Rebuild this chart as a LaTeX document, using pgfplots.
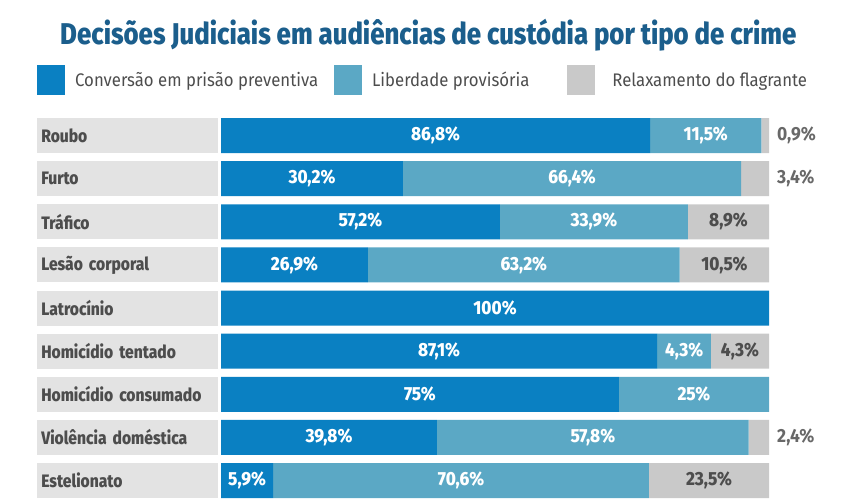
\documentclass[border=0pt]{standalone}
\usepackage{fontspec}
\setmainfont{Fira Sans}
\newfontfamily\cond[FakeStretch=0.86, BoldFont={Fira Sans ExtraBold}]{Fira Sans}
\newfontfamily\condl[FakeStretch=0.92]{Fira Sans}
\newfontfamily\condx[FakeStretch=0.9, BoldFont={Fira Sans ExtraBold}]{Fira Sans}
\newfontfamily\condr[FakeStretch=0.87, BoldFont={Fira Sans ExtraBold}]{Fira Sans}
\usepackage{pgfplots}
\pgfplotsset{compat=1.18}
\usepackage{pgfplotstable}

\definecolor{azul}{HTML}{0A80C2}
\definecolor{azulclaro}{HTML}{5BA8C5}
\definecolor{cinza}{HTML}{C9C9C9}
\definecolor{fundo}{HTML}{E3E3E3}
\definecolor{titulo}{HTML}{1B5E8C}
\definecolor{texto}{HTML}{4D4D4D}

% segment lengths as drawn (percent of the bar)
\pgfplotstableread{
row a b c
0 78.3 20.3 1.4
1 33.2 61.7 5.1
2 50.9 34.3 14.8
3 26.8 56.9 16.3
4 100 0 0
5 79.6 9.8 10.6
6 72.6 27.4 0
7 39.4 56.9 3.7
8 9.5 68.6 21.9
}\barras

\pgfplotstableread{
x y lbl
39.15 0 86,8\%
88.45 0 11,5\%
16.6 1 30,2\%
64.05 1 66,4\%
25.45 2 57,2\%
68.05 2 33,9\%
13.4 3 26,9\%
55.25 3 63,2\%
50 4 100\%
39.8 5 87,1\%
84.5 5 4,3\%
36.3 6 75\%
86.3 6 25\%
19.7 7 39,8\%
67.85 7 57,8\%
4.75 8 5,9\%
43.8 8 70,6\%
}\brancos

\pgfplotstableread{
x y lbl
92.6 2 8,9\%
91.85 3 10,5\%
94.7 5 4,3\%
89.05 8 23,5\%
}\escuros

\pgfplotstableread{
x y lbl
100 0 0,9\%
100 1 3,4\%
100 7 2,4\%
}\fora

\pgfplotsset{
  sq/.style={legend image code/.code={\fill[##1] (0pt,-15pt) rectangle (28pt,15pt);}},
  geom/.style={
    width=548pt, height=388.1pt, scale only axis,
    at={(221pt,-2.06pt)}, anchor=south west,
    xmin=0, xmax=100, ymin=-0.5, ymax=8.5, y dir=reverse,
    clip=false,
  },
}

\begin{document}
\begin{tikzpicture}
\useasboundingbox (0,0) rectangle (845pt,500pt);

\node[anchor=base west, inner sep=0pt, text=titulo,
      font=\cond\bfseries\fontsize{30}{32}\selectfont]
  at (60pt,455pt) {Decisões Judiciais em audiências de custódia por tipo de crime};

\begin{axis}[geom,
  xbar stacked, bar width=35pt,
  hide x axis,
  axis line style={draw=none},
  ytick style={draw=none}, major tick length=0pt,
  ytick={0,...,8},
  yticklabels={Roubo, Furto, Tráfico, Lesão corporal, Latrocínio, Homicídio tentado, Homicídio consumado, Violência doméstica, Estelionato},
  yticklabel style={fill=fundo, text width=172pt, minimum height=35pt,
    inner xsep=4.5pt, inner ysep=0pt, align=left, anchor=east, xshift=-3pt,
    text=texto, font=\condr\bfseries\fontsize{18}{20}\selectfont},
  legend columns=3,
  legend style={at={(-0.3358,1.1262)}, anchor=north west, draw=none, fill=none,
    inner sep=0pt, text=texto, font=\condl\fontsize{18.2}{21}\selectfont,
    /tikz/column 1/.style={column sep=8pt},
    /tikz/column 2/.style={column sep=14pt},
    /tikz/column 3/.style={column sep=8pt},
    /tikz/column 4/.style={column sep=36pt},
    /tikz/column 5/.style={column sep=15pt}},
]
\addplot[fill=azul, draw=none, sq] table[x=a, y=row] {\barras};
\addlegendentry{Conversão em prisão preventiva}
\addplot[fill=azulclaro, draw=none, sq] table[x=b, y=row] {\barras};
\addlegendentry{Liberdade provisória}
\addplot[fill=cinza, draw=none, sq] table[x=c, y=row] {\barras};
\addlegendentry{Relaxamento do flagrante}
\end{axis}

\begin{axis}[geom, hide axis,
  nodes near coords, point meta=explicit symbolic,
  every node near coord/.append style={font=\condx\bfseries\fontsize{19}{21}\selectfont, inner sep=0pt},
]
\addplot[draw=none, mark=none, every node near coord/.append style={anchor=center, text=white}]
  table[x=x, y=y, meta=lbl] {\brancos};
\addplot[draw=none, mark=none, every node near coord/.append style={anchor=center, text=texto}]
  table[x=x, y=y, meta=lbl] {\escuros};
\addplot[draw=none, mark=none, every node near coord/.append style={anchor=west, xshift=8pt, text=texto!85, font=\condl\bfseries\fontsize{19}{21}\selectfont}]
  table[x=x, y=y, meta=lbl] {\fora};
\end{axis}
\end{tikzpicture}
\end{document}
